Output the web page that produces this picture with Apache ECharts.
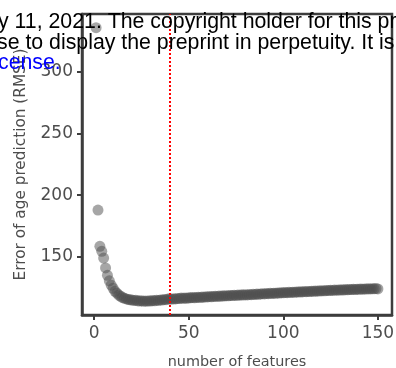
<!DOCTYPE html>
<html>
<head>
<meta charset="utf-8">
<script src="https://cdn.jsdelivr.net/npm/echarts@6/dist/echarts.min.js"></script>
<style>html,body{margin:0;padding:0;background:#fff;}#c{width:396px;height:368px;}</style>
</head>
<body>
<div id="c"></div>
<script>
// number of features 1..150
const features = [];
for (let i = 1; i <= 150; i++) features.push(i);
const rmse = [
336,188,158.5,154.5,149,141,135,130.5,127,124.5,
122,120.5,119,118,117,116.3,115.8,115.4,115.1,114.9,
114.6,114.8,114.3,114.1,114.4,113.9,114.2,114.0,114.3,114.1,
114.5,114.3,114.8,114.6,115.0,114.9,115.4,115.2,115.7,115.9,
115.6,116.0,115.8,116.2,116.1,116.5,116.3,116.6,116.4,116.8,
116.7,117.0,116.8,117.1,117.3,117.0,117.4,117.3,117.6,117.5,
117.8,117.6,117.9,118.1,117.9,118.2,118.0,118.4,118.3,118.5,
118.4,118.7,118.6,118.9,118.7,119.0,118.9,119.2,119.0,119.3,
119.1,119.4,119.3,119.6,119.5,119.8,119.6,119.9,120.1,119.9,
120.2,120.1,120.4,120.3,120.5,120.4,120.7,120.6,120.9,120.8,
121.0,120.9,121.2,121.1,121.3,121.2,121.5,121.4,121.6,121.5,
121.8,121.7,121.9,121.8,122.1,122.0,122.2,122.1,122.4,122.3,
122.5,122.4,122.7,122.6,122.8,122.7,123.0,122.9,123.1,123.0,
123.2,123.1,123.4,123.3,123.5,123.4,123.6,123.5,123.8,123.7,
123.9,123.8,124.0,123.9,124.1,124.0,124.2,124.1,124.3,124.0
];
const xTicks = [0, 50, 100, 150];
const yTicks = [150, 200, 250, 300];
const cutoff = 40;
const watermarkLines = [
  "y 11, 2021. The copyright holder for this preprint",
  "se to display the preprint in perpetuity. It is made",
  "cense."
];

const points = features.map((f, i) => [f, rmse[i]]);
const axisFont = "DejaVu Sans";
const chart = echarts.init(document.getElementById('c'), null, {renderer: 'canvas'});
chart.setOption({
  animation: false,
  backgroundColor: '#ffffff',
  grid: {left: 82, right: 4, top: 14, bottom: 53, containLabel: false, outerBoundsMode: 'none',
         show: true, borderColor: '#3d3d3d', borderWidth: 2.5, backgroundColor: 'transparent'},
  xAxis: {
    type: 'value', min: -6.45, max: 157.45,
    name: 'number of features', nameLocation: 'middle', nameGap: 40,
    nameTextStyle: {color: '#4d4d4d', fontSize: 14.4, fontFamily: axisFont},
    axisLine: {show: true, onZero: false, lineStyle: {color: '#3d3d3d', width: 2.5}},
    splitLine: {show: false},
    axisTick: {show: true, inside: false, length: 5, lineStyle: {color: '#3d3d3d', width: 2}, customValues: xTicks},
    axisLabel: {show: true, inside: false, color: '#4d4d4d', fontSize: 17, fontFamily: axisFont, margin: 10, customValues: xTicks}
  },
  yAxis: {
    type: 'value', min: 102.8, max: 347.1,
    name: 'Error of age prediction (RMSE)', nameLocation: 'middle', nameGap: 53,
    nameTextStyle: {color: '#4d4d4d', fontSize: 15.3, fontFamily: axisFont},
    axisLine: {show: true, onZero: false, lineStyle: {color: '#3d3d3d', width: 2.5}},
    splitLine: {show: false},
    axisTick: {show: true, inside: false, length: 5, lineStyle: {color: '#3d3d3d', width: 2}, customValues: yTicks},
    axisLabel: {show: true, inside: false, color: '#4d4d4d', fontSize: 17, fontFamily: axisFont, margin: 9, customValues: yTicks}
  },
  series: [{
    type: 'scatter',
    data: points,
    symbol: 'circle',
    symbolSize: 11,
    itemStyle: {color: '#4d4d4d', opacity: 0.5},
    markLine: {
      silent: true, symbol: ['none', 'none'], label: {show: false},
      lineStyle: {color: '#ff0000', width: 2, type: [2, 2]},
      data: [{xAxis: cutoff}]
    }
  }],
  graphic: [
    {type: 'text', left: -2, top: 12, z: 100, style: {text: watermarkLines[0], fontFamily: 'Liberation Sans', fontSize: 21.3, fill: '#000000'}},
    {type: 'text', left: -3, top: 33, z: 100, style: {text: watermarkLines[1], fontFamily: 'Liberation Sans', fontSize: 21.3, fill: '#000000'}},
    {type: 'text', left: -2, top: 53, z: 100, style: {text: watermarkLines[2], fontFamily: 'Liberation Sans', fontSize: 21.3, fill: '#0000ff'}}
  ]
});
</script>
</body>
</html>
